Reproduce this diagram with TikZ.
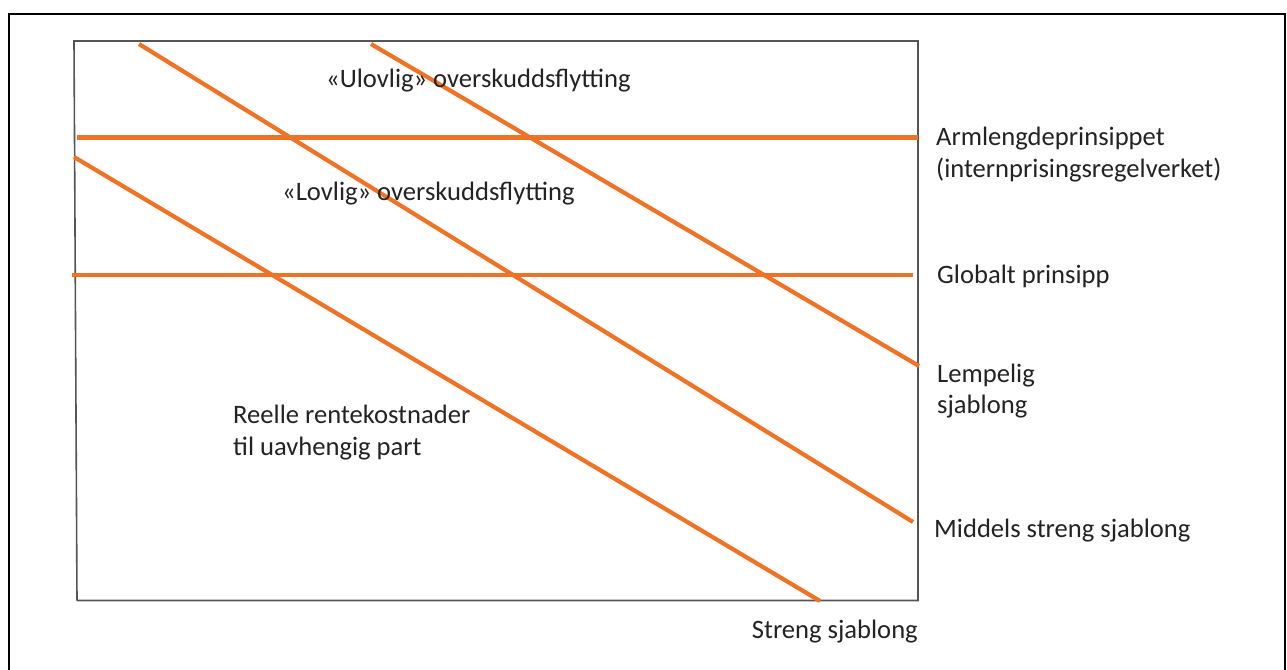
\documentclass[tikz,border=0pt]{standalone}
\usepackage{fontspec}
\setmainfont{Carlito}
\definecolor{rule}{RGB}{240,114,36}
\definecolor{frame}{RGB}{85,85,85}
\definecolor{ink}{RGB}{35,35,35}
\begin{document}
\begin{tikzpicture}[x=1pt,y=-1pt,
  level/.style={draw=rule,line width=4.2pt},
  axisline/.style={draw=frame,line width=1.6pt},
  label/.style={anchor=base west,inner sep=0pt,text=ink,font=\fontsize{26.6}{32}\selectfont},
  labelr/.style={label,anchor=base east}]
\useasboundingbox (0,0) rectangle (1287,669);
\clip (0,0) rectangle (1287,669);
% outer frame (open at the bottom edge of the page)
\draw[black,line width=2.2pt] (9,675) -- (9,14) -- (1285,14) -- (1285,675);
% plot box
\coordinate (tl) at (74,41);
\coordinate (tr) at (918,41);
\coordinate (br) at (918,600.5);
\coordinate (bl) at (77,600.5);
\draw[axisline] (bl) -- (tl) -- (tr) -- (br) -- (bl);
% horizontal principles
\coordinate (h1a) at (77,137.5);  \coordinate (h1b) at (918,137.5);
\coordinate (h2a) at (72,275);    \coordinate (h2b) at (913,275);
\draw[level] (h1a) -- (h1b);
\draw[level] (h2a) -- (h2b);
% sloping templates
\coordinate (d1a) at (139,44);  \coordinate (d1b) at (913,522);
\coordinate (d2a) at (371,44);  \coordinate (d2b) at (919,366);
\coordinate (d3a) at (74,157);  \coordinate (d3b) at (820,601);
\draw[level] (d1a) -- (d1b);
\draw[level] (d2a) -- (d2b);
\draw[level] (d3a) -- (d3b);
% texts
\node[label] (ulov) at (326,88) {«Ulovlig» overskuddsflytting};
\node[label] (lov) at (282,200) {«Lovlig» overskuddsflytting};
\node[label] (arm1) at (936,145) {Armlengdeprinsippet};
\node[label] (arm2) at (936,177) {(internprisingsregelverket)};
\node[label] (glob) at (937,283) {Globalt prinsipp};
\node[label] (lemp1) at (937,382) {Lempelig};
\node[label] (lemp2) at (937,413) {sjablong};
\node[label] (reel1) at (233,423) {Reelle rentekostnader};
\node[label] (reel2) at (233,455) {til uavhengig part};
\node[label] (mid) at (934,537) {Middels streng sjablong};
\node[labelr] (streng) at (918,638) {Streng sjablong};
\end{tikzpicture}
\end{document}
